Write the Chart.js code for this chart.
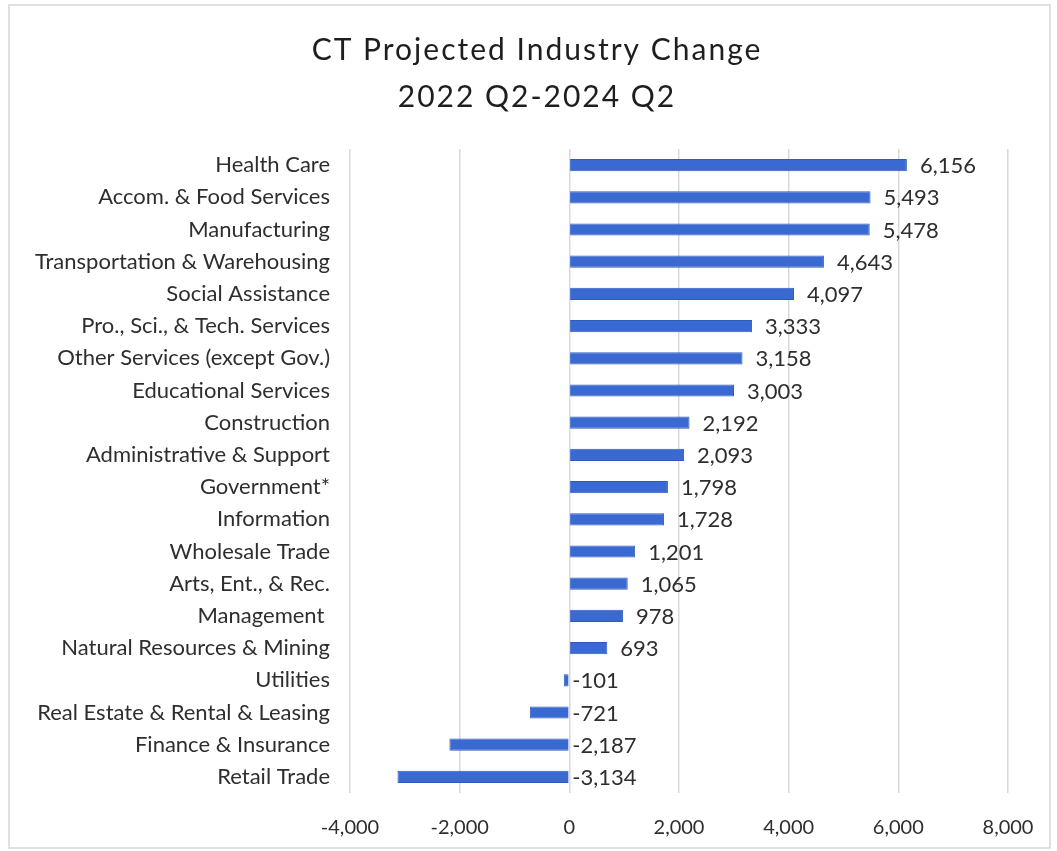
<!DOCTYPE html>
<html>
<head>
<meta charset="utf-8">
<script src="https://cdn.jsdelivr.net/npm/chart.js@4.4.1/dist/chart.umd.min.js"></script>
<style>
  html, body { margin: 0; padding: 0; background: #fff; }
  #wrap { width: 1057px; height: 851px; }
</style>
</head>
<body>
<div id="wrap"><canvas id="industryChart" width="1057" height="851"></canvas></div>
<script>
var categories = [
  "Health Care",
  "Accom. & Food Services",
  "Manufacturing",
  "Transportation & Warehousing",
  "Social Assistance",
  "Pro., Sci., & Tech. Services",
  "Other Services (except Gov.)",
  "Educational Services",
  "Construction",
  "Administrative & Support",
  "Government*",
  "Information",
  "Wholesale Trade",
  "Arts, Ent., & Rec.",
  "Management ",
  "Natural Resources & Mining",
  "Utilities",
  "Real Estate & Rental & Leasing",
  "Finance & Insurance",
  "Retail Trade",
];
var changes = [
  6156, 5493, 5478, 4643, 4097, 3333, 3158, 3003, 2192, 2093,
  1798, 1728, 1201, 1065, 978, 693, -101, -721, -2187, -3134,
];
var xTicks = [-4000, -2000, 0, 2000, 4000, 6000, 8000];
var titleLines = ["CT Projected Industry Change", "2022 Q2-2024 Q2"];

var FONT = "Lato, 'Open Sans', sans-serif";
var TEXT = "#2e2e2e";

var canvas = document.getElementById("industryChart");
var ctx = canvas.getContext("2d");

// white background, faint frame and the two-line title
var framePlugin = {
  id: "frame",
  beforeDraw: function (chart) {
    var c = chart.ctx;
    c.save();
    c.fillStyle = "#ffffff";
    c.fillRect(0, 0, chart.width, chart.height);
    c.strokeStyle = "#d6d6d6";
    c.lineWidth = 1.5;
    c.strokeRect(9, 5, 1041, 843);
    c.font = "30px " + FONT;
    c.letterSpacing = "2px";
    c.fillStyle = "#1e1e1e";
    c.textAlign = "center";
    c.textBaseline = "middle";
    c.fillText(titleLines[0], 537, 50);
    c.fillText(titleLines[1], 537, 97);
    c.restore();
  },
};

// value labels: to the right of bar end, or right of zero for negatives
var valueLabelPlugin = {
  id: "valueLabels",
  afterDatasetsDraw: function (chart) {
    var c = chart.ctx;
    var xScale = chart.scales.x;
    var meta = chart.getDatasetMeta(0);
    c.save();
    c.font = "22px " + FONT;
    c.fillStyle = TEXT;
    c.textAlign = "left";
    c.textBaseline = "middle";
    meta.data.forEach(function (bar, i) {
      var v = changes[i];
      var x = xScale.getPixelForValue(Math.max(v, 0)) + (v >= 0 ? 13 : 3);
      c.fillText(v.toLocaleString("en-US"), x, bar.y + 1);
    });
    c.restore();
  },
};

Chart.register(framePlugin, valueLabelPlugin);

var industryChart = new Chart(ctx, {
  type: "bar",
  data: {
    labels: categories,
    datasets: [
      {
        label: "Change",
        data: changes,
        backgroundColor: "#3a69d2",
        borderColor: "#2f5bbf",
        borderWidth: 1,
        barPercentage: 0.38,
        categoryPercentage: 1.0,
      },
    ],
  },
  options: {
    indexAxis: "y",
    responsive: false,
    animation: false,
    layout: { padding: { left: 0, right: 49, top: 149, bottom: 0 } },
    plugins: {
      legend: { display: false },
      tooltip: { enabled: false },
      title: { display: false },
    },
    scales: {
      x: {
        min: -4000,
        max: 8000,
        afterBuildTicks: function (scale) {
          scale.ticks = xTicks.map(function (v) { return { value: v }; });
        },
        afterFit: function (scale) {
          scale.height = 58;
        },
        grid: { color: "#d9d9d9", lineWidth: 1.5, drawTicks: false },
        border: { display: false },
        ticks: {
          padding: 23,
          color: TEXT,
          font: { family: FONT, size: 20 },
          callback: function (v) { return Number(v).toLocaleString("en-US"); },
        },
      },
      y: {
        afterFit: function (scale) {
          scale.width = 350;
        },
        grid: { display: false, drawTicks: false },
        border: { display: false },
        ticks: {
          padding: 20,
          color: TEXT,
          autoSkip: false,
          font: { family: FONT, size: 22 },
        },
      },
    },
  },
});
</script>
</body>
</html>
